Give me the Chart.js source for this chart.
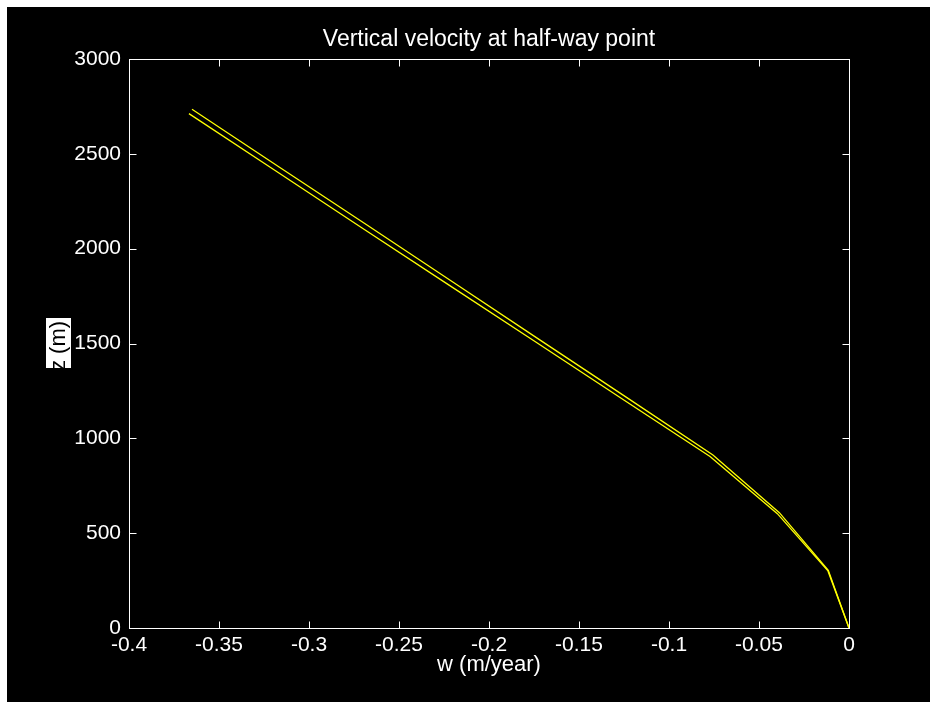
<!DOCTYPE html>
<html>
<head>
<meta charset="utf-8">
<script src="https://cdn.jsdelivr.net/npm/chart.js@4"></script>
<style>
    html, body { margin: 0; padding: 0; background: #fff; }
    #wrap { position: absolute; left: 7px; top: 7px; width: 923px; height: 695px; background: #000; }
</style>
</head>
<body>
<div id="wrap"><canvas id="velChart" width="923" height="695"></canvas></div>
<script>
// depth levels (m) and vertical velocity (m/year) for the two profiles
const zUpper = [0, 304, 608, 912, 1216, 1519, 1823, 2127, 2431, 2735];
const wUpper = [0, -0.0115, -0.0387, -0.0756, -0.1236, -0.1718, -0.2199, -0.2682, -0.3166, -0.3650];
const zLower = [0, 301, 603, 904, 1205, 1507, 1808, 2109, 2411, 2712];
const wLower = [0, -0.0117, -0.0398, -0.0772, -0.1255, -0.1738, -0.2222, -0.2705, -0.3186, -0.3667];

const xTicks = [-0.4, -0.35, -0.3, -0.25, -0.2, -0.15, -0.1, -0.05, 0];
const yTicks = [0, 500, 1000, 1500, 2000, 2500, 3000];

const colors = {
    bg: '#000000',
    axis: '#ffffff',
    line: '#ffff00'
};
const fontFamily = "'Liberation Sans', Arial, Helvetica, sans-serif";

Chart.defaults.font.family = fontFamily;
Chart.defaults.color = colors.axis;

function toPoints(ws, zs) {
    return ws.map((w, i) => ({ x: w, y: zs[i] }));
}

// box round the axes with inward tick marks on all four sides
const axesBox = {
    id: 'axesBox',
    beforeDraw(chart) {
        const c = chart.ctx;
        c.save();
        c.fillStyle = colors.bg;
        c.fillRect(0, 0, chart.width, chart.height);
        c.restore();
    },
    afterDatasetsDraw(chart) {
        const c = chart.ctx;
        const a = chart.chartArea;
        const L = Math.round(a.left) + 0.5, R = Math.round(a.right) + 0.5;
        const T = Math.round(a.top) + 0.5, B = Math.round(a.bottom) + 0.5;
        const len = 7;
        c.save();
        c.strokeStyle = colors.axis;
        c.lineWidth = 1;
        c.strokeRect(L, T, R - L, B - T);
        c.beginPath();
        chart.scales.x.ticks.forEach(t => {
            const px = Math.round(chart.scales.x.getPixelForValue(t.value)) + 0.5;
            c.moveTo(px, B); c.lineTo(px, B - len);
            c.moveTo(px, T); c.lineTo(px, T + len);
        });
        chart.scales.y.ticks.forEach(t => {
            const py = Math.round(chart.scales.y.getPixelForValue(t.value)) + 0.5;
            c.moveTo(L, py); c.lineTo(L + len, py);
            c.moveTo(R, py); c.lineTo(R - len, py);
        });
        c.stroke();

        // y label sits on a small white patch, text clipped to it
        c.fillStyle = '#ffffff';
        c.fillRect(39, 311, 25, 50);
        c.beginPath();
        c.rect(39, 311, 25, 50);
        c.clip();
        c.translate(52, 339);
        c.rotate(-Math.PI / 2);
        c.fillStyle = '#000000';
        c.font = '22px ' + fontFamily;
        c.textAlign = 'center';
        c.textBaseline = 'middle';
        c.fillText('z (m)', 0, 0);
        c.restore();
    }
};

new Chart(document.getElementById('velChart'), {
    type: 'line',
    data: {
        datasets: [{
            data: toPoints(wUpper, zUpper),
            borderColor: colors.line,
            borderWidth: 1.3,
            pointRadius: 0,
            tension: 0,
            fill: false
        }, {
            data: toPoints(wLower, zLower),
            borderColor: colors.line,
            borderWidth: 1.3,
            pointRadius: 0,
            tension: 0,
            fill: false
        }]
    },
    options: {
        responsive: false,
        animation: false,
        layout: { padding: { top: 0, right: 81, bottom: 0, left: 0 } },
        plugins: {
            legend: { display: false },
            tooltip: { enabled: false },
            title: {
                display: true,
                text: 'Vertical velocity at half-way point',
                fullSize: false,
                color: colors.axis,
                font: { size: 23, weight: 'normal' },
                padding: { top: 19, bottom: 5.4 }
            }
        },
        scales: {
            x: {
                type: 'linear',
                min: -0.4,
                max: 0,
                grid: { display: false, drawTicks: false },
                border: { display: false },
                afterBuildTicks: (s) => { s.ticks = xTicks.map(v => ({ value: v })); },
                afterFit: (s) => { s.height = 74; },
                ticks: {
                    color: colors.axis,
                    font: { size: 21 },
                    padding: 5,
                    maxRotation: 0,
                    autoSkip: false,
                    callback: (v) => String(v)
                },
                title: {
                    display: true,
                    text: 'w (m/year)',
                    color: colors.axis,
                    font: { size: 22 },
                    padding: { top: 0, bottom: 24 }
                }
            },
            y: {
                type: 'linear',
                min: 0,
                max: 3000,
                grid: { display: false, drawTicks: false },
                border: { display: false },
                afterBuildTicks: (s) => { s.ticks = yTicks.map(v => ({ value: v })); },
                afterFit: (s) => { s.width = 122; },
                ticks: {
                    color: colors.axis,
                    font: { size: 21 },
                    padding: 8,
                    autoSkip: false,
                    callback: (v) => String(v)
                }
            }
        }
    },
    plugins: [axesBox]
});
</script>
</body>
</html>
